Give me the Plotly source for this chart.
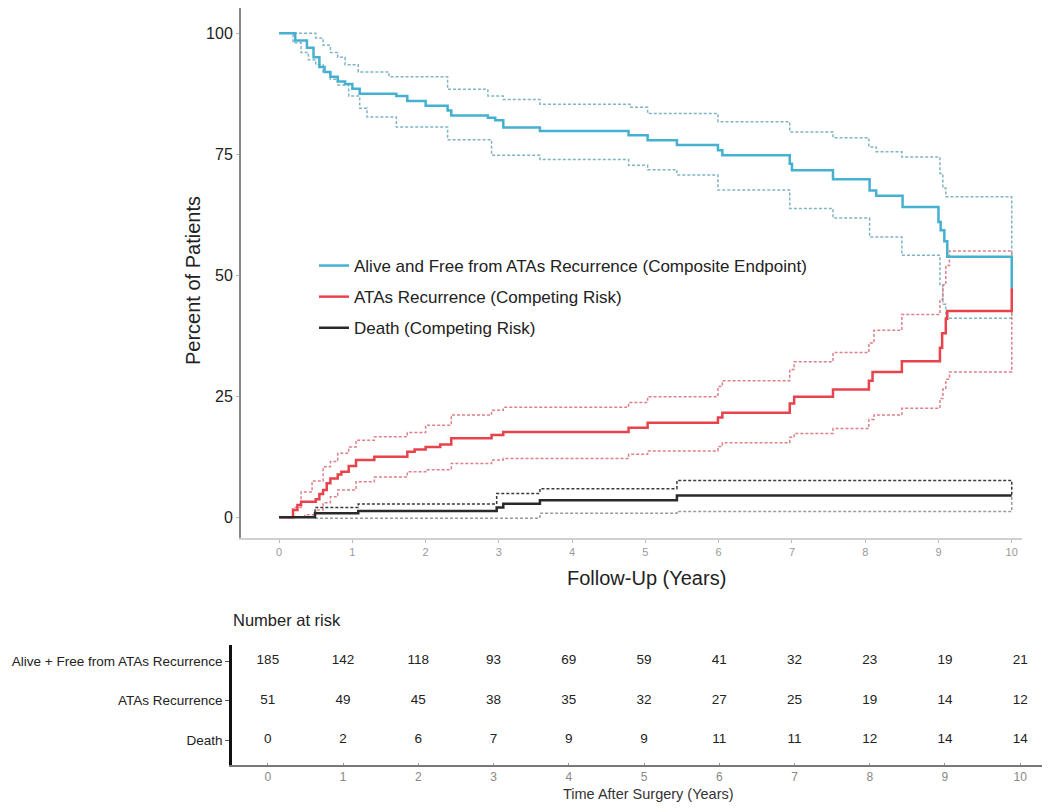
import plotly.graph_objects as go

# ---------------- data ----------------
years = [0, 1, 2, 3, 4, 5, 6, 7, 8, 9, 10]

comp_t = [0, 0.22, 0.38, 0.47, 0.55, 0.62, 0.7, 0.8, 0.9, 1.0, 1.1, 1.6, 1.75, 2.0, 2.3, 2.35, 2.85, 2.95, 3.06, 3.56,
          4.77, 5.03, 5.43, 5.99, 6.05, 6.97, 7.0, 7.56, 8.06, 8.15, 8.51, 9.0, 9.03, 9.08, 9.12, 10.0]
comp_v = [100, 98.5, 97, 95, 93, 92, 91, 90, 89.5, 88.5, 87.5, 87, 86, 85, 84, 83, 82.5, 82, 80.5, 79.8,
          78.9, 77.9, 76.9, 75.8, 74.8, 73, 71.7, 69.8, 67.5, 66.4, 64.1, 61, 59.3, 57, 53.8, 47.3]
comp_up_t = [0, 0.5, 0.6, 0.7, 0.8, 0.9, 1.08, 1.5, 2.3, 2.85, 3.06, 3.56, 4.79, 5.03, 5.99, 6.97, 7.56, 8.05,
             8.15, 8.5, 9.02, 9.06, 9.1, 10]
comp_up_v = [100, 99, 97.5, 96, 95, 93.5, 92, 91, 88.4, 87, 86.3, 85.3, 84.7, 83.4, 81.7, 79.6, 78.4, 76.5,
             75.5, 74.4, 71, 68, 66.2, 47.3]
comp_lo_t = [0, 0.19, 0.3, 0.4, 0.5, 0.6, 0.7, 0.8, 0.95, 1.1, 1.2, 1.6, 2.3, 2.9, 3.56, 4.77, 5.03, 5.43, 5.99,
             6.97, 7.56, 8.06, 8.5, 9.02, 9.06, 9.1, 10]
comp_lo_v = [100, 98, 96, 94.5, 93.5, 92, 90.5, 89.3, 87, 84.5, 82.7, 80.6, 78, 74.8, 73.9, 72.7, 71.8, 70.7, 67.6,
             63.8, 61.8, 57.9, 54.1, 48, 44, 41.1, 47.3]

rec_t = [0, 0.19, 0.25, 0.3, 0.5, 0.55, 0.6, 0.65, 0.7, 0.8, 0.85, 0.95, 1.05, 1.3, 1.75, 1.85, 2.0, 2.2, 2.35,
         2.9, 3.06, 4.77, 5.03, 5.99, 6.05, 6.97, 7.03, 7.56, 8.05, 8.1, 8.5, 9.02, 9.05, 9.1, 9.12, 10]
rec_v = [0, 1.5, 2.5, 3.2, 3.7, 4.8, 5.6, 7, 8.0, 8.8, 9.4, 10.6, 11.8, 12.5, 13.5, 14, 14.5, 15, 16.3,
         17, 17.6, 18.5, 19.5, 20.6, 21.6, 23.5, 24.9, 26.4, 28.2, 30.0, 32.2, 35, 38, 41, 42.6, 47.3]
rec_up_t = [0, 0.19, 0.3, 0.45, 0.6, 0.7, 0.8, 0.95, 1.05, 1.3, 1.75, 2.0, 2.35, 2.9, 3.06, 4.77, 5.03, 5.99,
            6.05, 6.97, 7.03, 7.56, 8.05, 8.12, 8.5, 9.02, 9.06, 9.1, 9.15, 10]
rec_up_v = [0, 2, 5.2, 7.5, 10.4, 11.5, 13.2, 14.5, 15.9, 16.6, 17.5, 19, 21.1, 22.1, 22.7, 23.7, 24.9, 27,
            28.2, 30.5, 32.1, 34.0, 36, 38.6, 41.9, 45, 48, 52, 55, 47.3]
rec_lo_t = [0, 0.35, 0.5, 0.6, 0.7, 0.8, 1.05, 1.3, 1.75, 2.0, 2.35, 2.9, 3.06, 4.77, 5.03, 5.99, 6.05, 6.97,
            7.03, 7.56, 8.05, 8.12, 8.5, 9.02, 9.06, 9.1, 9.15, 10]
rec_lo_v = [0, 0.5, 1.5, 3, 4.2, 5.6, 7.3, 8.3, 9.4, 9.8, 11.1, 11.8, 12.1, 13, 13.7, 14.6, 15.4, 16.5,
            17.3, 18.3, 20.2, 21.1, 22.5, 24.5, 26.5, 28.5, 30.0, 47.3]

death_t = [0, 0.49, 1.08, 2.97, 3.06, 3.56, 5.43, 10]
death_v = [0, 0.8, 1.3, 2.0, 2.8, 3.5, 4.5, 4.5]
death_up_t = [0.49, 0.49, 1.08, 2.97, 3.56, 5.43, 10]
death_up_v = [0, 2.0, 2.7, 4.9, 5.9, 7.6, 4.5]
death_lo_t = [0.49, 3.56, 5.43, 10]
death_lo_v = [-0.2, 0.8, 1.2, 4.5]

series_names = ["Alive and Free from ATAs Recurrence (Composite Endpoint)",
                "ATAs Recurrence (Competing Risk)",
                "Death (Competing Risk)"]
row_labels = ["Alive + Free from ATAs Recurrence", "ATAs Recurrence", "Death"]
risk_comp = [185, 142, 118, 93, 69, 59, 41, 32, 23, 19, 21]
risk_rec = [51, 49, 45, 38, 35, 32, 27, 25, 19, 14, 12]
risk_death = [0, 2, 6, 7, 9, 9, 11, 11, 12, 14, 14]
y_ticks = [0, 25, 50, 75, 100]

# ---------------- styling ----------------
FONT = "Liberation Sans, Arial, Helvetica, sans-serif"
OFF = 8  # page body margin
W, H = 1050 - 2 * OFF, 812 - 2 * OFF
BLUE = "#45b0d0"
RED = "#e8434c"
BLACK = "#2a2a2a"
BLUE_CI = "#80b4c3"
RED_CI = "#dd8088"
DASH = "3px,2px"


def px_x(p):
    return (p - OFF) / W


def px_y(p):
    return 1 - (p - OFF) / H


fig = go.Figure()

ci_specs = [
    (comp_up_t, comp_up_v, BLUE_CI), (comp_lo_t, comp_lo_v, BLUE_CI),
    (rec_up_t, rec_up_v, RED_CI), (rec_lo_t, rec_lo_v, RED_CI),
    (death_up_t, death_up_v, "#3a3a3a"), (death_lo_t, death_lo_v, "#9a9a9a"),
]
for t, v, c in ci_specs:
    fig.add_trace(go.Scatter(x=t, y=v, mode="lines", line=dict(color=c, width=1.5, dash=DASH, shape="hv"),
                             showlegend=False, hoverinfo="skip", xaxis="x", yaxis="y"))

main_specs = [(comp_t, comp_v, BLUE, series_names[0], "a"),
              (rec_t, rec_v, RED, series_names[1], "b"),
              (death_t, death_v, BLACK, series_names[2], "c")]
for t, v, c, n, g in main_specs:
    fig.add_trace(go.Scatter(x=t, y=v, mode="lines", line=dict(color=c, width=2.5, shape="hv"),
                             name=n, legendgroup=g, xaxis="x", yaxis="y"))

# risk table
for i, vals in enumerate([risk_comp, risk_rec, risk_death]):
    fig.add_trace(go.Scatter(x=years, y=[3 - i] * len(years), mode="text", text=[str(v) for v in vals],
                             textfont=dict(family=FONT, size=13.5, color="#222"), showlegend=False,
                             hoverinfo="skip", xaxis="x2", yaxis="y2"))

fig.update_layout(
    width=W, height=H, autosize=False,
    margin=dict(l=0, r=0, t=0, b=0),
    paper_bgcolor="white", plot_bgcolor="white",
    font=dict(family=FONT, color="#222"),
    xaxis=dict(domain=[px_x(241), px_x(1022)], range=[-0.52, 10.14], tickvals=years,
               showgrid=False, zeroline=False, showline=True, linecolor="#d0d0d0", linewidth=2,
               ticks="outside", ticklen=3, tickcolor="#bbb",
               tickfont=dict(size=11, color="#999"), anchor="y"),
    yaxis=dict(domain=[px_y(538), px_y(8)], range=[-4.3, 105.2], tickvals=y_ticks,
               showgrid=False, zeroline=False, showline=True, linecolor="#888", linewidth=2,
               ticks="outside", ticklen=3, tickcolor="#bbb",
               tickfont=dict(size=16, color="#222"), anchor="x"),
    xaxis2=dict(domain=[px_x(232), min(1.0, px_x(1045))], range=[-0.477, 10.29], tickvals=years,
                showgrid=False, zeroline=False, showline=True, linecolor="#777", linewidth=1.5,
                ticks="inside", ticklen=2, tickcolor="#999",
                tickfont=dict(size=12, color="#888"), anchor="y2"),
    yaxis2=dict(domain=[px_y(765), px_y(645)], range=[0.367, 3.405], tickvals=[3, 2, 1],
                ticktext=row_labels, showgrid=False, zeroline=False, showline=True, linecolor="#111",
                linewidth=2.5, ticks="outside", ticklen=4, tickcolor="#555",
                tickfont=dict(size=13.5, color="#222"), anchor="x2"),
    legend=dict(x=px_x(314), y=px_y(248), xanchor="left", yanchor="top", bgcolor="rgba(0,0,0,0)",
                font=dict(size=17, color="#222"), tracegroupgap=6, itemwidth=30),
    annotations=[
        dict(text="Follow-Up (Years)", x=px_x(646), y=px_y(578), xref="paper", yref="paper",
             xanchor="center", yanchor="middle", showarrow=False, font=dict(size=20, color="#222")),
        dict(text="Percent of Patients", x=px_x(193), y=px_y(281), xref="paper", yref="paper",
             xanchor="center", yanchor="middle", textangle=-90, showarrow=False,
             font=dict(size=20, color="#222")),
        dict(text="Number at risk", x=px_x(231), y=px_y(620), xref="paper", yref="paper",
             xanchor="left", yanchor="middle", showarrow=False, font=dict(size=16.5, color="#222")),
        dict(text="Time After Surgery (Years)", x=px_x(648), y=0, xref="paper", yref="paper",
             xanchor="center", yanchor="bottom", showarrow=False, font=dict(size=14.5, color="#333")),
    ],
)

fig.write_html("out.html")
